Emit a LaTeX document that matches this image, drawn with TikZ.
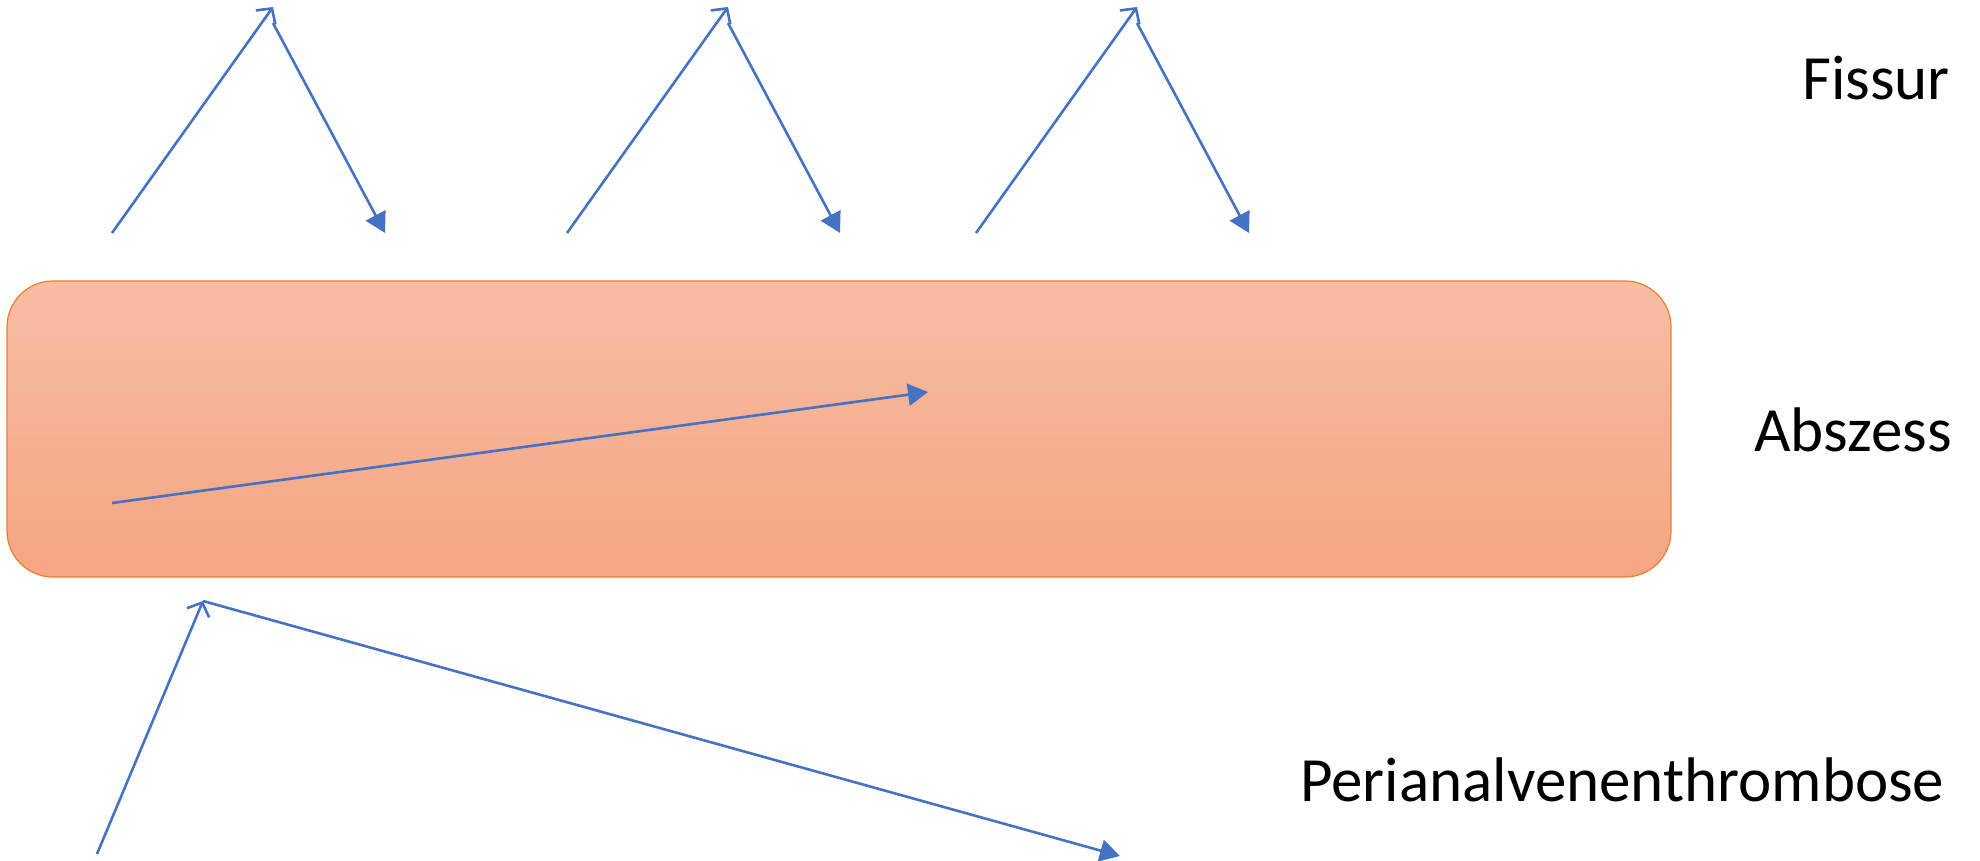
\documentclass[tikz,border=0pt]{standalone}
\usepackage{fontspec}
\setmainfont{Carlito}
\usetikzlibrary{arrows.meta}
\definecolor{linkblue}{HTML}{4472C4}
\definecolor{boxedge}{HTML}{ED7D31}
\definecolor{boxtop}{HTML}{F6BDA3}
\definecolor{boxbot}{HTML}{F5A582}
\tikzset{
  link/.style={draw=linkblue, line width=2.6pt},
  openhead/.style={link, -{Straight Barb[length=11pt,width=24pt,line width=2.6pt]}},
  fillhead/.style={link, -{Triangle[length=20pt,width=22pt]}},
  label/.style={font=\fontsize{63}{70}\selectfont, anchor=base west, inner sep=0pt},
  band/.style={draw=boxedge, line width=1.2pt, rounded corners=46pt,
    top color=boxtop, bottom color=boxbot, minimum width=1664pt, minimum height=296pt}
}
\begin{document}
\begin{tikzpicture}[x=1pt,y=-1pt]
\useasboundingbox (0,0) rectangle (1980,861);

% the band
\node[band] (abscessband) at (839,429) {};

% top row: three up-and-down zigzags
\foreach \i/\dx in {1/0,2/455,3/864}{
  \coordinate (up\i) at (112+\dx,233);
  \coordinate (peak\i) at (273+\dx,7);
  \coordinate (down\i) at (273+\dx,23);
  \coordinate (land\i) at (385+\dx,233);
  \draw[openhead] (up\i) -- (peak\i);
  \draw[fillhead] (down\i) -- (land\i);
}

% arrow inside the band
\coordinate (midstart) at (112,503);
\coordinate (midend) at (928,392);
\draw[fillhead] (midstart) -- (midend);

% bottom path
\coordinate (lowstart) at (97,854);
\coordinate (lowpeak) at (203,601);
\coordinate (lowend) at (1120,856);
\draw[openhead] (lowstart) -- (lowpeak);
\draw[fillhead] (lowpeak) -- (lowend);

% labels
\node[label] (fissur) at (1802,100) {Fissur};
\node[label] (abszess) at (1754,451) {Abszess};
\node[label] (pvt) at (1300,801) {Perianalvenenthrombose};
\end{tikzpicture}
\end{document}
